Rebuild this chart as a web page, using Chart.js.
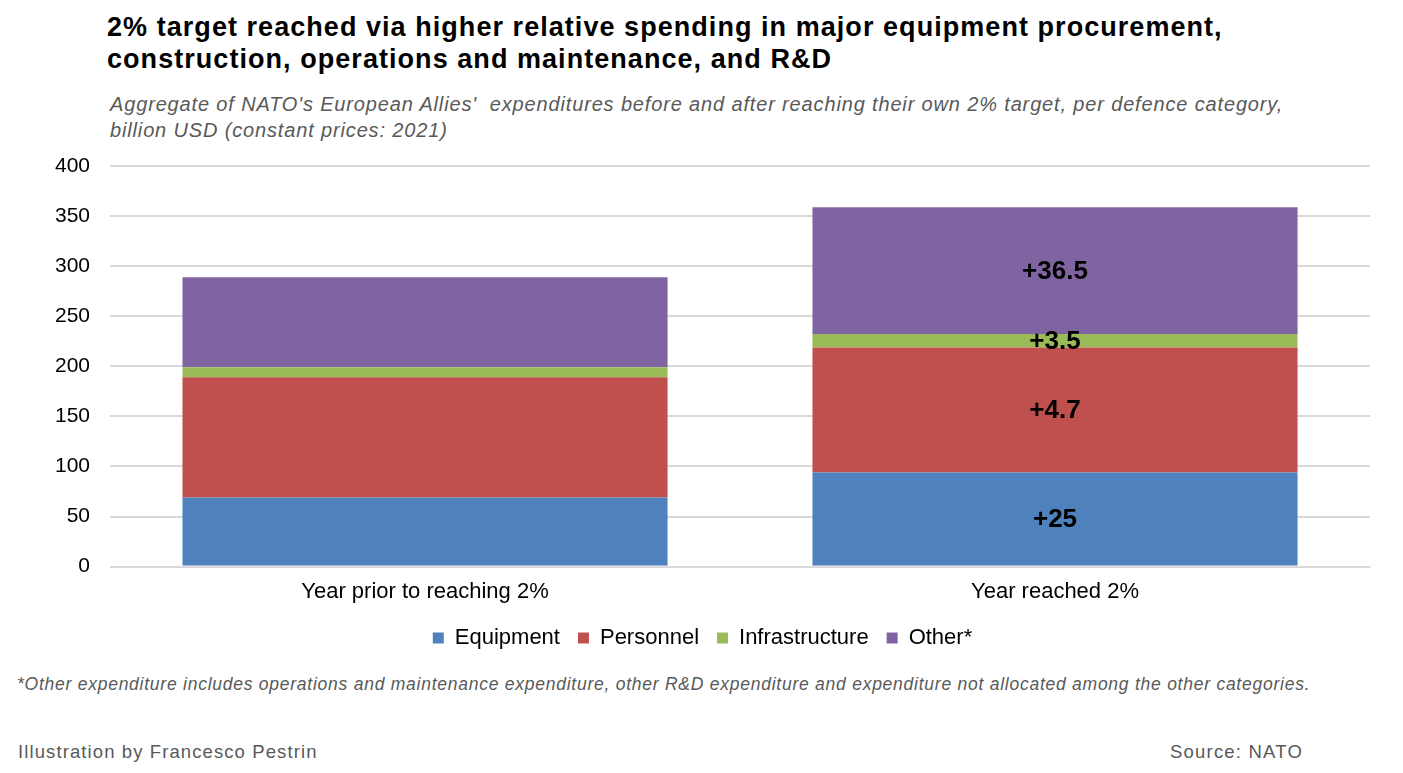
<!DOCTYPE html>
<html>
<head>
<meta charset="utf-8">
<script src="https://cdn.jsdelivr.net/npm/chart.js@4"></script>
<style>
  html, body { margin:0; padding:0; background:#fff; }
  body { width:1403px; height:773px; position:relative; overflow:hidden; font-family:"Liberation Sans", Arial, sans-serif; }
  .abs { position:absolute; white-space:nowrap; }
  #title { left:107px; top:11px; font-weight:bold; font-size:27px; line-height:32px; letter-spacing:1.05px; color:#000; }
  #subtitle { left:110px; top:91px; font-style:italic; font-size:20px; line-height:26px; letter-spacing:0.85px; color:#595959; }
  #foot { left:17px; top:674px; font-style:italic; font-size:17.5px; line-height:20px; letter-spacing:0.75px; color:#595959; }
  #credit { left:18px; top:741px; font-size:18.5px; letter-spacing:1.1px; color:#595959; }
  #source { right:100px; top:741px; font-size:18.5px; letter-spacing:1.2px; color:#595959; }
  #wrap { position:absolute; left:0; top:0; width:1403px; height:665px; }
</style>
</head>
<body>
<div id="title" class="abs">2% target reached via higher relative spending in major equipment procurement,<br>construction, operations and maintenance, and R&amp;D</div>
<div id="subtitle" class="abs">Aggregate of NATO's European Allies'&nbsp; expenditures before and after reaching their own 2% target, per defence category,<br>billion USD (constant prices: 2021)</div>
<div id="wrap"><canvas id="c"></canvas></div>
<div id="foot" class="abs">*Other expenditure includes operations and maintenance expenditure, other R&amp;D expenditure and expenditure not allocated among the other categories.</div>
<div id="credit" class="abs">Illustration by Francesco Pestrin</div>
<div id="source" class="abs">Source: NATO</div>
<script>
const categories = ["Year prior to reaching 2%", "Year reached 2%"];
const equipment = [69, 94];
const personnel = [120, 124.7];
const infrastructure = [10, 13.5];
const other = [90, 126.5];
const changeLabels = ["+25", "+4.7", "+3.5", "+36.5"];
const yTicks = [0, 50, 100, 150, 200, 250, 300, 350, 400];

const colors = ["#4F81BD", "#C0504D", "#9BBB59", "#8064A2"];
const FONT = "'Liberation Sans', Arial, sans-serif";

const changePlugin = {
  id: 'changeLabels',
  afterDatasetsDraw(chart) {
    const ctx = chart.ctx;
    ctx.save();
    ctx.font = "bold 26px " + FONT;
    ctx.fillStyle = "#000";
    ctx.textAlign = "center";
    ctx.textBaseline = "middle";
    chart.data.datasets.forEach((ds, i) => {
      const meta = chart.getDatasetMeta(i);
      const el = meta.data[1];
      if (!el) return;
      const yc = (el.y + el.base) / 2;
      ctx.fillText(changeLabels[i], el.x, yc + 1);
    });
    ctx.restore();
  }
};

new Chart(document.getElementById('c'), {
  type: 'bar',
  data: {
    labels: categories,
    datasets: [
      { label: "Equipment", data: equipment, backgroundColor: colors[0] },
      { label: "Personnel", data: personnel, backgroundColor: colors[1] },
      { label: "Infrastructure", data: infrastructure, backgroundColor: colors[2] },
      { label: "Other*", data: other, backgroundColor: colors[3] }
    ]
  },
  options: {
    responsive: true,
    maintainAspectRatio: false,
    animation: false,
    layout: { padding: { top: 166, left: 35, right: 33, bottom: 6 } },
    datasets: { bar: { barPercentage: 0.77, categoryPercentage: 1.0, borderWidth: 0 } },
    plugins: {
      legend: {
        position: 'bottom',
        labels: {
          boxWidth: 11, boxHeight: 11, padding: 18, color: "#000",
          font: { size: 22, family: FONT }
        }
      },
      tooltip: { enabled: false }
    },
    scales: {
      x: {
        stacked: true,
        grid: { display: false },
        border: { color: "#d9d9d9", width: 1 },
        ticks: { color: "#000", font: { size: 22, family: FONT }, padding: 4 }
      },
      y: {
        stacked: true,
        min: 0, max: 400,
        afterBuildTicks(scale) { scale.ticks = yTicks.map(v => ({ value: v })); },
        grid: { color: "#d9d9d9", lineWidth: 2, drawTicks: false },
        border: { display: false },
        ticks: { color: "#000", font: { size: 21, family: FONT }, padding: 20 }
      }
    }
  },
  plugins: [changePlugin]
});
</script>
</body>
</html>
